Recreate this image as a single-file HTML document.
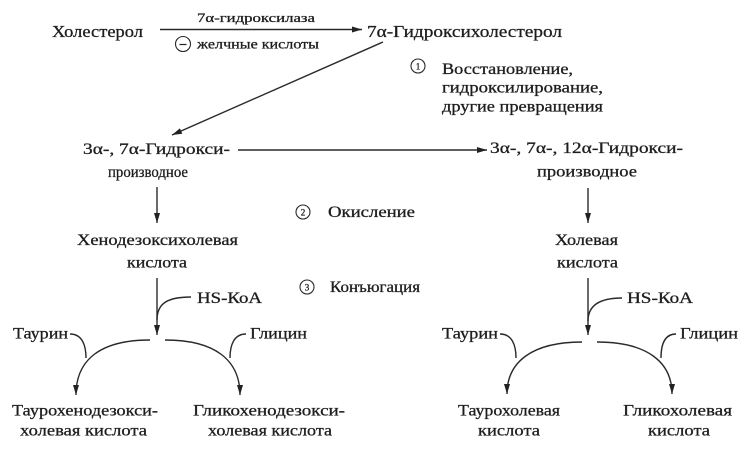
<!DOCTYPE html>
<html>
<head>
<meta charset="utf-8">
<style>
  html,body{margin:0;padding:0;background:#fff;}
  svg{display:block;}
  text{font-family:"Liberation Serif","Noto Serif CJK SC",serif;fill:#1e1e1e;stroke:#1e1e1e;stroke-width:0.3px;}
</style>
</head>
<body>
<svg width="753" height="449" viewBox="0 0 753 449" xmlns="http://www.w3.org/2000/svg">
  <defs>
    <marker id="ah" viewBox="0 0 10 6" refX="10" refY="3" markerWidth="10" markerHeight="6" orient="auto" markerUnits="userSpaceOnUse">
      <path d="M0,0 L10,3 L0,6 z" fill="#222"/>
    </marker>
  </defs>

  <g stroke="#2a2a2a" stroke-width="1.4" fill="none">
    <line x1="160" y1="29.5" x2="362" y2="29.5" marker-end="url(#ah)"/>
    <line x1="383" y1="42" x2="172" y2="135" marker-end="url(#ah)"/>
    <line x1="238" y1="150" x2="487" y2="150" marker-end="url(#ah)"/>
    <line x1="157" y1="187" x2="157" y2="223" marker-end="url(#ah)"/>
    <line x1="588" y1="188" x2="588" y2="223" marker-end="url(#ah)"/>
    <line x1="157" y1="278" x2="157" y2="335" marker-end="url(#ah)"/>
    <line x1="588" y1="278" x2="588" y2="335" marker-end="url(#ah)"/>

    <path d="M191,297 C168,297 157,303 157,320"/>
    <path d="M622,298 C600,298 588,305 588,321"/>

    <path d="M150,340 C100,340 76,360 76,395" marker-end="url(#ah)"/>
    <path d="M165,340 C215,340 240,360 240,395" marker-end="url(#ah)"/>
    <path d="M70,334 C82,334 86,345 86,358"/>
    <path d="M246,334 C234,334 230,345 230,358"/>

    <path d="M582,342 C532,342 507,362 507,394" marker-end="url(#ah)"/>
    <path d="M597,342 C647,342 672,362 672,394" marker-end="url(#ah)"/>
    <path d="M500,334 C512,334 516,345 516,358"/>
    <path d="M676,334 C664,334 661,345 661,358"/>

    <circle cx="183" cy="44" r="7.5" stroke-width="1.1"/>
    <circle cx="418" cy="66" r="7" stroke-width="1.1"/>
    <circle cx="303" cy="212" r="7" stroke-width="1.1"/>
    <circle cx="307" cy="287" r="7" stroke-width="1.1"/>
  </g>

  <line x1="179.5" y1="44.5" x2="186.5" y2="44.5" stroke="#222" stroke-width="1.2"/>
  <text x="418" y="69.5" font-size="9" text-anchor="middle">1</text>
  <text x="303" y="215.5" font-size="9" text-anchor="middle">2</text>
  <text x="307" y="290.5" font-size="9" text-anchor="middle">3</text>

  <text x="52" y="37" font-size="17" textLength="91" lengthAdjust="spacingAndGlyphs">Холестерол</text>
  <text x="197" y="22" font-size="13" textLength="118" lengthAdjust="spacingAndGlyphs">7α-гидроксилаза</text>
  <text x="197" y="48.5" font-size="14" textLength="122" lengthAdjust="spacingAndGlyphs">желчные кислоты</text>
  <text x="367" y="37" font-size="17" textLength="195" lengthAdjust="spacingAndGlyphs">7α-Гидроксихолестерол</text>

  <text x="442" y="74" font-size="16" textLength="131" lengthAdjust="spacingAndGlyphs">Восстановление,</text>
  <text x="442" y="92.5" font-size="16" textLength="161" lengthAdjust="spacingAndGlyphs">гидроксилирование,</text>
  <text x="442" y="111.5" font-size="16" textLength="161" lengthAdjust="spacingAndGlyphs">другие превращения</text>

  <text x="83" y="154" font-size="16" textLength="147" lengthAdjust="spacingAndGlyphs">3α-, 7α-Гидрокси-</text>
  <text x="108" y="177" font-size="16" textLength="80" lengthAdjust="spacingAndGlyphs">производное</text>
  <text x="490" y="153" font-size="16" textLength="193" lengthAdjust="spacingAndGlyphs">3α-, 7α-, 12α-Гидрокси-</text>
  <text x="537" y="176.5" font-size="16" textLength="100" lengthAdjust="spacingAndGlyphs">производное</text>

  <text x="328" y="217" font-size="16" textLength="87" lengthAdjust="spacingAndGlyphs">Окисление</text>

  <text x="77" y="245" font-size="16" textLength="161" lengthAdjust="spacingAndGlyphs">Хенодезоксихолевая</text>
  <text x="127" y="267.5" font-size="16" textLength="60" lengthAdjust="spacingAndGlyphs">кислота</text>
  <text x="555" y="245" font-size="16" textLength="63" lengthAdjust="spacingAndGlyphs">Холевая</text>
  <text x="557" y="267.5" font-size="16" textLength="61" lengthAdjust="spacingAndGlyphs">кислота</text>

  <text x="330" y="292" font-size="16" textLength="90" lengthAdjust="spacingAndGlyphs">Конъюгация</text>

  <text x="197" y="303" font-size="16" textLength="65" lengthAdjust="spacingAndGlyphs">HS-КоА</text>
  <text x="627" y="303" font-size="16" textLength="66" lengthAdjust="spacingAndGlyphs">HS-КоА</text>

  <text x="13" y="338.5" font-size="16" textLength="55" lengthAdjust="spacingAndGlyphs">Таурин</text>
  <text x="250" y="338.5" font-size="16" textLength="57" lengthAdjust="spacingAndGlyphs">Глицин</text>
  <text x="442" y="338.5" font-size="16" textLength="56" lengthAdjust="spacingAndGlyphs">Таурин</text>
  <text x="680" y="338.5" font-size="16" textLength="58" lengthAdjust="spacingAndGlyphs">Глицин</text>

  <text x="12" y="415.5" font-size="16" textLength="146" lengthAdjust="spacingAndGlyphs">Таурохенодезокси-</text>
  <text x="20" y="435.5" font-size="16" textLength="127" lengthAdjust="spacingAndGlyphs">холевая кислота</text>
  <text x="193" y="415.5" font-size="16" textLength="152" lengthAdjust="spacingAndGlyphs">Гликохенодезокси-</text>
  <text x="208" y="435.5" font-size="16" textLength="124" lengthAdjust="spacingAndGlyphs">холевая кислота</text>

  <text x="458" y="415.5" font-size="16" textLength="102" lengthAdjust="spacingAndGlyphs">Таурохолевая</text>
  <text x="478" y="435.5" font-size="16" textLength="62" lengthAdjust="spacingAndGlyphs">кислота</text>
  <text x="623" y="415.5" font-size="16" textLength="109" lengthAdjust="spacingAndGlyphs">Гликохолевая</text>
  <text x="648" y="435.5" font-size="16" textLength="62" lengthAdjust="spacingAndGlyphs">кислота</text>
</svg>
</body>
</html>
